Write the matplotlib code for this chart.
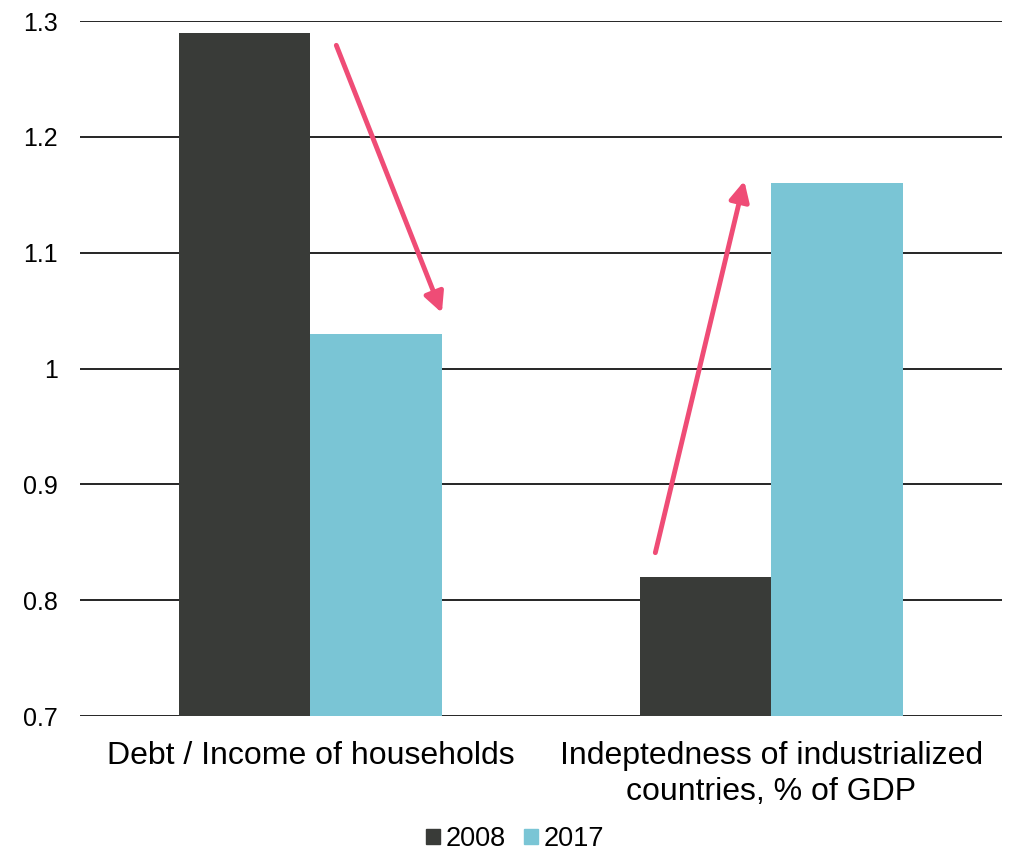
import matplotlib
matplotlib.use("Agg")
import matplotlib.pyplot as plt
import numpy as np
from matplotlib.patches import Patch

plt.rcParams['font.family'] = ['Liberation Sans', 'DejaVu Sans']

categories = ["Debt / Income of households", "Indeptedness of industrialized\ncountries, % of GDP"]
series_names = ["2008", "2017"]
values_2008 = [1.29, 0.82]
values_2017 = [1.03, 1.16]
yticks = [0.7, 0.8, 0.9, 1.0, 1.1, 1.2, 1.3]
ytick_labels = ["0.7", "0.8", "0.9", "1", "1.1", "1.2", "1.3"]

c2008 = "#393B38"
c2017 = "#7AC5D5"
arrow_c = "#EF4C76"

fig = plt.figure(figsize=(10.12, 8.52), dpi=100)
ax = fig.add_axes([80/1012, 1-716/852, 922/1012, (716-21)/852])

x = np.arange(len(categories))
w = 0.286
ax.bar(x - w/2, values_2008, w, color=c2008, zorder=3)
ax.bar(x + w/2, values_2017, w, color=c2017, zorder=3)

ax.set_xlim(-0.5, 1.5)
ax.set_ylim(0.7, 1.3)
ax.set_yticks(yticks)
ax.set_yticklabels(ytick_labels, fontsize=18)
ax.yaxis.grid(True, color="black", linewidth=1.2, zorder=1)
ax.set_axisbelow(True)
for s in ax.spines.values():
    s.set_visible(False)
ax.tick_params(axis='y', length=0, pad=16)
ax.tick_params(axis='x', length=0, pad=18)
ax.set_xticks(x)
ax.set_xticklabels(categories, fontsize=23, va='top', linespacing=1.28)

# arrows
ax.annotate("", xy=(0.285, 1.048), xytext=(0.056, 1.279),
            arrowprops=dict(arrowstyle="-|>,head_length=1.2,head_width=0.6", color=arrow_c, lw=3.5,
                            shrinkA=0, shrinkB=0), zorder=5)
ax.annotate("", xy=(0.941, 1.162), xytext=(0.748, 0.841),
            arrowprops=dict(arrowstyle="-|>,head_length=1.2,head_width=0.6", color=arrow_c, lw=3.5,
                            shrinkA=0, shrinkB=0), zorder=5)

handles = [Patch(color=c2008), Patch(color=c2017)]
fig.legend(handles, series_names, loc='center', bbox_to_anchor=(515/1012, 1-839/852),
           ncol=2, frameon=False, fontsize=19.5, handlelength=0.52, handleheight=0.52,
           handletextpad=0.2, columnspacing=0.7)

fig.savefig("out.png", dpi=100)
